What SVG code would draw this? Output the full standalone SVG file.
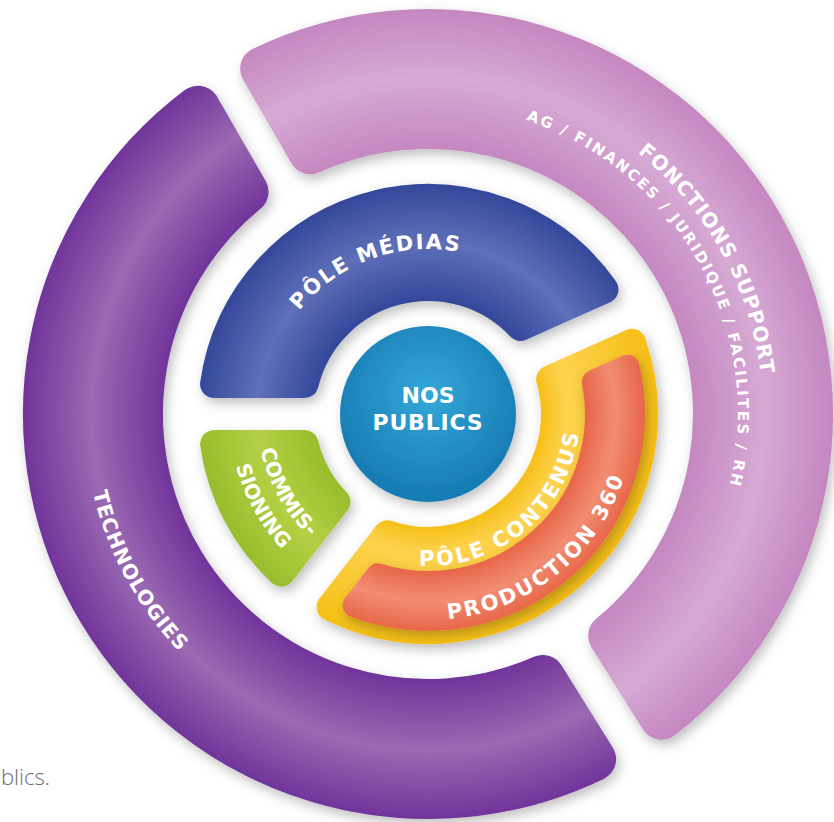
<svg xmlns="http://www.w3.org/2000/svg" width="834" height="822" viewBox="0 0 834 822">
  <defs>
    <style>
      .lbl { font-family: "DejaVu Sans", "Liberation Sans", sans-serif; font-weight: bold; fill: #ffffff; }
      .seg { stroke-linejoin: round; }
      .foot { font-family: "Open Sans", "Liberation Sans", sans-serif; font-weight: 300; fill: #6d6d6d; }
    </style>
    <filter id="sh" x="-20%" y="-20%" width="140%" height="140%">
      <feDropShadow dx="3" dy="5" stdDeviation="6" flood-color="#000000" flood-opacity="0.25"/>
    </filter>
    <radialGradient id="gTech" gradientUnits="userSpaceOnUse" cx="428" cy="414" r="405">
      <stop offset="0.654" stop-color="#71349a"/>
      <stop offset="0.83" stop-color="#9a6ab2"/>
      <stop offset="1" stop-color="#71349a"/>
    </radialGradient>
    <radialGradient id="gPink" gradientUnits="userSpaceOnUse" cx="428" cy="414" r="405">
      <stop offset="0.654" stop-color="#c587c1"/>
      <stop offset="0.83" stop-color="#d6aad4"/>
      <stop offset="1" stop-color="#c587c1"/>
    </radialGradient>
    <radialGradient id="gBlue" gradientUnits="userSpaceOnUse" cx="428" cy="414" r="231">
      <stop offset="0.489" stop-color="#34479a"/>
      <stop offset="0.74" stop-color="#5f6fb8"/>
      <stop offset="1" stop-color="#34479a"/>
    </radialGradient>
    <radialGradient id="gYellow" gradientUnits="userSpaceOnUse" cx="428" cy="414" r="231">
      <stop offset="0.489" stop-color="#f6bf16"/>
      <stop offset="0.6" stop-color="#fdd24f"/>
      <stop offset="1" stop-color="#f6bf16"/>
    </radialGradient>
    <radialGradient id="gOrange" gradientUnits="userSpaceOnUse" cx="428" cy="414" r="231">
      <stop offset="0.68" stop-color="#e8664a"/>
      <stop offset="0.81" stop-color="#f28d72"/>
      <stop offset="0.94" stop-color="#e8664a"/>
    </radialGradient>
    <radialGradient id="gGreen" gradientUnits="userSpaceOnUse" cx="428" cy="414" r="231">
      <stop offset="0.489" stop-color="#97bd2c"/>
      <stop offset="0.74" stop-color="#b4d045"/>
      <stop offset="1" stop-color="#97bd2c"/>
    </radialGradient>
    <radialGradient id="gCircle" gradientUnits="userSpaceOnUse" cx="428" cy="395" r="100">
      <stop offset="0" stop-color="#34a7d8"/>
      <stop offset="1" stop-color="#177cb3"/>
    </radialGradient>
    <path id="pMedias" d="M 265.51 385.35 A 165 165 0 0 1 534.06 287.60"/>
    <path id="pFonctions" d="M 291.74 107.96 A 335 335 0 0 1 615.33 691.73"/>
    <path id="pAg" d="M 301.91 130.80 A 310 310 0 0 1 601.35 671.00"/>
    <path id="pTech" d="M 213.86 144.78 A 344 344 0 0 0 537.15 740.22"/>
    <path id="pContenus" d="M 330.30 530.44 A 152 152 0 0 0 559.64 338"/>
    <path id="pProd" d="M 292.85 569.47 A 206 206 0 0 0 608.17 314.13"/>
    <path id="pCommis" d="M 320.39 281.11 A 171 171 0 0 0 483.67 575.68"/>
    <path id="pSioning" d="M 302.77 259.35 A 199 199 0 0 0 492.79 602.16"/>
  </defs>

  <rect x="0" y="0" width="834" height="822" fill="#ffffff"/>

  <g id="technologies">
    <path class="seg" filter="url(#sh)" fill="url(#gTech)" stroke="url(#gTech)" stroke-width="44"
          d="M 594.12 759.10 A 383 383 0 0 1 198.04 107.71 L 246.51 191.66 A 287 287 0 0 0 542.83 677.03 Z"/>
    <text class="lbl" font-size="20" letter-spacing="0.9"><textPath href="#pTech" startOffset="50%" text-anchor="middle">TECHNOLOGIES</textPath></text>
  </g>

  <g id="fonctions-support">
    <path class="seg" filter="url(#sh)" fill="url(#gPink)" stroke="url(#gPink)" stroke-width="44"
          d="M 262.16 68.76 A 383 383 0 0 1 661.39 717.68 L 610.19 635.75 A 287 287 0 0 0 310.34 152.22 Z"/>
    <text class="lbl" font-size="20" letter-spacing="1"><textPath href="#pFonctions" startOffset="50%" text-anchor="middle">FONCTIONS SUPPORT</textPath></text>
    <text class="lbl" font-size="15" letter-spacing="2.2"><textPath href="#pAg" startOffset="50%" text-anchor="middle">AG / FINANCES / JURIDIQUE / FACILITES / RH</textPath></text>
  </g>

  <g id="pole-medias">
    <path class="seg" filter="url(#sh)" fill="url(#gBlue)" stroke="url(#gBlue)" stroke-width="28"
          d="M 214.1 384 A 216 216 0 0 1 604.5 289.4 L 520.4 326.9 A 127 127 0 0 0 304.6 384 Z"/>
    <text class="lbl" font-size="21" letter-spacing="1.8"><textPath href="#pMedias" startOffset="50%" text-anchor="middle">PÔLE MÉDIAS</textPath></text>
  </g>

  <g id="pole-contenus">
    <path class="seg" filter="url(#sh)" fill="url(#gYellow)" stroke="url(#gYellow)" stroke-width="28"
          d="M 631.96 342.89 A 216 216 0 0 1 330.64 606.84 L 387.31 534.30 A 127 127 0 0 0 550.17 379.30 Z"/>
    <text class="lbl" font-size="21" letter-spacing="2.5"><textPath href="#pContenus" startOffset="50%" text-anchor="middle">PÔLE CONTENUS</textPath></text>
  </g>

  <g id="production-360">
    <path class="seg" filter="url(#sh)" fill="url(#gOrange)" stroke="url(#gOrange)" stroke-width="24"
          d="M 627.49 366.77 A 205 205 0 0 1 354.60 605.41 L 378.01 575.44 A 169 169 0 0 0 593.89 381.73 Z"/>
    <text class="lbl" font-size="21" letter-spacing="2.3"><textPath href="#pProd" startOffset="50%" text-anchor="middle">PRODUCTION 360</textPath></text>
  </g>

  <g id="commissioning">
    <path class="seg" filter="url(#sh)" fill="url(#gGreen)" stroke="url(#gGreen)" stroke-width="28"
          d="M 281.30 572.54 A 216 216 0 0 1 214.1 444 L 304.6 444 A 127 127 0 0 0 336.42 501.99 Z"/>
    <text class="lbl" font-size="20"><textPath href="#pCommis" startOffset="50%" text-anchor="middle">COMMIS-</textPath></text>
    <text class="lbl" font-size="20"><textPath href="#pSioning" startOffset="50%" text-anchor="middle">SIONING</textPath></text>
  </g>

  <g id="nos-publics">
    <circle cx="428" cy="414" r="88" fill="url(#gCircle)" filter="url(#sh)"/>
    <text class="lbl" font-size="22" text-anchor="middle" x="428" y="403">NOS</text>
    <text class="lbl" font-size="22" letter-spacing="0.8" text-anchor="middle" x="428" y="430">PUBLICS</text>
  </g>

  <text class="foot" x="1" y="785" font-size="22">blics.</text>
</svg>
